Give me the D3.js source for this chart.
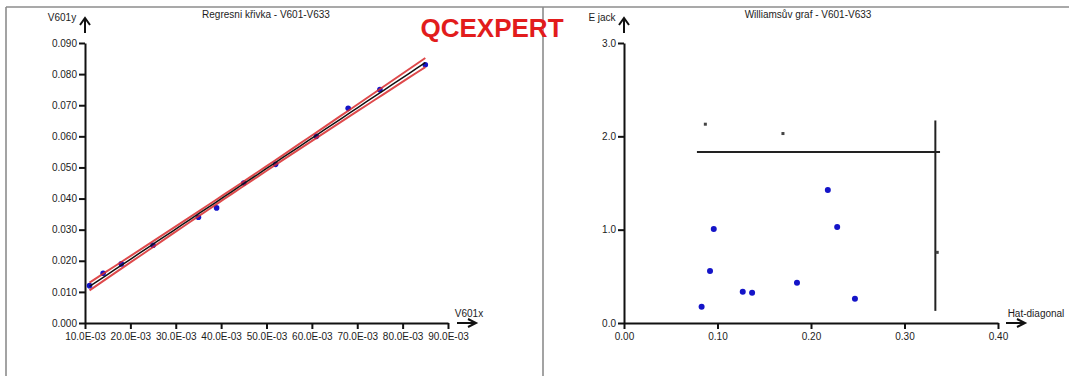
<!DOCTYPE html>
<html>
<head>
<meta charset="utf-8">
<script src="https://cdn.jsdelivr.net/npm/d3@7"></script>
<style>
  html, body { margin: 0; padding: 0; background: #fff; }
  svg { display: block; }
  .tick text { font-family: "Liberation Sans", Arial, sans-serif; fill: #1c1c1c; }
  .axis path, .axis line { stroke: #111; stroke-width: 2; }
</style>
</head>
<body>
<svg id="chart" width="1069" height="376"></svg>
<script>
// Calibration data: V601x vs V601y
const calX = [0.011, 0.014, 0.018, 0.025, 0.035, 0.039, 0.045, 0.052, 0.061, 0.068, 0.075, 0.085];
const calY = [0.012, 0.016, 0.019, 0.025, 0.034, 0.037, 0.045, 0.051, 0.060, 0.069, 0.075, 0.083];
const calXTicks = [0.01, 0.02, 0.03, 0.04, 0.05, 0.06, 0.07, 0.08, 0.09];
const calYTicks = [0.000, 0.010, 0.020, 0.030, 0.040, 0.050, 0.060, 0.070, 0.080, 0.090];
const tCrit = 2.228; // Student t, 0.975, 10 df

// Williams plot: hat diagonal vs jackknife residual
const hatVals   = [0.083, 0.092, 0.096, 0.127, 0.137, 0.185, 0.218, 0.228, 0.247];
const ejackVals = [0.175, 0.557, 1.007, 0.336, 0.325, 0.432, 1.425, 1.029, 0.260];
const hatFlagged   = [0.087, 0.170, 0.335];
const ejackFlagged = [2.130, 2.030, 0.757];
const hatTicks = [0.00, 0.10, 0.20, 0.30, 0.40];
const ejackTicks = [0.0, 1.0, 2.0, 3.0];
const hatLimit = 0.333;     // 2p/n
const ejackLimit = 1.833;   // t(0.95, n-p-1)
const hatLineSpan = [0.078, 0.338];
const ejackLineSpan = [0.13, 2.17];

const svg = d3.select("#chart");
const FONT = '"Liberation Sans", Arial, sans-serif';

// panel frame
const frame = svg.append("g").attr("stroke", "#8c8c8c").attr("stroke-width", 1.6).attr("fill", "none");
frame.append("line").attr("x1", 6).attr("x2", 1069).attr("y1", 7).attr("y2", 7);
frame.append("line").attr("x1", 6).attr("x2", 6).attr("y1", 7).attr("y2", 376);
frame.append("line").attr("x1", 543).attr("x2", 543).attr("y1", 7).attr("y2", 376);

function arrowUp(g, x, yTop) {
  g.append("path")
    .attr("d", `M${x},${yTop + 15}V${yTop} M${x - 5},${yTop + 7}L${x},${yTop}L${x + 5},${yTop + 7}`)
    .attr("fill", "none").attr("stroke", "#111").attr("stroke-width", 2);
}
function arrowRight(g, x0, x1, y) {
  g.append("path")
    .attr("d", `M${x0},${y}H${x1} M${x1 - 8},${y - 4}L${x1},${y}L${x1 - 8},${y + 4}`)
    .attr("fill", "none").attr("stroke", "#111").attr("stroke-width", 2);
}
function text(g, x, y, s, opts = {}) {
  return g.append("text").attr("x", x).attr("y", y).text(s)
    .attr("font-family", FONT)
    .attr("font-size", opts.size || 10)
    .attr("font-weight", opts.weight || "normal")
    .attr("fill", opts.fill || "#1c1c1c")
    .attr("text-anchor", opts.anchor || "start");
}

// ---------- Regression curve ----------
const L = svg.append("g");
const xL = d3.scaleLinear().domain([0.01, 0.09]).range([85, 448]);
const yL = d3.scaleLinear().domain([0, 0.09]).range([323, 43]);

L.append("g").attr("class", "axis").attr("transform", "translate(0,323)")
  .call(d3.axisBottom(xL).tickValues(calXTicks).tickSize(6).tickSizeOuter(0).tickPadding(4)
    .tickFormat(d => (d * 1000).toFixed(1) + "E-03"))
  .call(g => g.selectAll("text").attr("font-size", 10));
L.append("g").attr("class", "axis").attr("transform", "translate(85,0)")
  .call(d3.axisLeft(yL).tickValues(calYTicks).tickSize(6).tickSizeOuter(0).tickPadding(2)
    .tickFormat(d3.format(".3f")))
  .call(g => g.selectAll("text").attr("font-size", 10));
arrowUp(L, 85, 18);
arrowRight(L, 457, 476, 323);
text(L, 62, 21, "V601y", { size: 10, anchor: "middle" });
text(L, 469, 317, "V601x", { size: 10, anchor: "middle" });
text(L, 266, 18, "Regresni křivka - V601-V633", { size: 10, anchor: "middle" });

// least-squares fit with 95% confidence band
const n = calX.length;
const mx = d3.mean(calX), my = d3.mean(calY);
const sxx = d3.sum(calX, x => (x - mx) ** 2);
const sxy = d3.sum(calX, (x, i) => (x - mx) * (calY[i] - my));
const slope = sxy / sxx, icpt = my - slope * mx;
const sse = d3.sum(calX, (x, i) => (calY[i] - (icpt + slope * x)) ** 2);
const sRes = Math.sqrt(sse / (n - 2));
const [xmin, xmax] = d3.extent(calX);
const grid = d3.range(0, 41).map(k => xmin + (xmax - xmin) * k / 40);
const fit = x => icpt + slope * x;
const half = x => tCrit * sRes * Math.sqrt(1 / n + (x - mx) ** 2 / sxx);
const line = d3.line().x(d => xL(d[0])).y(d => yL(d[1]));

L.selectAll("circle").data(calX).join("circle")
  .attr("cx", d => xL(d)).attr("cy", (d, i) => yL(calY[i])).attr("r", 2.8)
  .attr("fill", "#1414c8");
L.append("path").datum(grid.map(x => [x, fit(x) + half(x)])).attr("d", line)
  .attr("fill", "none").attr("stroke", "#d8292b").attr("stroke-width", 2).attr("opacity", 0.85);
L.append("path").datum(grid.map(x => [x, fit(x) - half(x)])).attr("d", line)
  .attr("fill", "none").attr("stroke", "#d8292b").attr("stroke-width", 2).attr("opacity", 0.85);
L.append("path").datum(grid.map(x => [x, fit(x)])).attr("d", line)
  .attr("fill", "none").attr("stroke", "#111").attr("stroke-width", 1.5);

// ---------- Williams plot ----------
const R = svg.append("g");
const xR = d3.scaleLinear().domain([0, 0.4]).range([624, 998]);
const yR = d3.scaleLinear().domain([0, 3]).range([323, 43]);

R.append("g").attr("class", "axis").attr("transform", "translate(0,323)")
  .call(d3.axisBottom(xR).tickValues(hatTicks).tickSize(6).tickSizeOuter(0).tickPadding(4)
    .tickFormat(d3.format(".2f")))
  .call(g => g.selectAll("text").attr("font-size", 10));
R.append("g").attr("class", "axis").attr("transform", "translate(624,0)")
  .call(d3.axisLeft(yR).tickValues(ejackTicks).tickSize(6).tickSizeOuter(0).tickPadding(2)
    .tickFormat(d3.format(".1f")))
  .call(g => g.selectAll("text").attr("font-size", 10));
arrowUp(R, 624, 18);
arrowRight(R, 1006, 1025, 323);
text(R, 602, 21, "E jack", { size: 10, anchor: "middle" });
text(R, 1036, 317, "Hat-diagonal", { size: 10, anchor: "middle" });
text(R, 808, 18, "Williamsův graf - V601-V633", { size: 10, anchor: "middle" });

R.append("line")
  .attr("x1", xR(hatLineSpan[0])).attr("x2", xR(hatLineSpan[1]))
  .attr("y1", yR(ejackLimit)).attr("y2", yR(ejackLimit))
  .attr("stroke", "#222").attr("stroke-width", 2);
R.append("line")
  .attr("x1", xR(hatLimit)).attr("x2", xR(hatLimit))
  .attr("y1", yR(ejackLineSpan[0])).attr("y2", yR(ejackLineSpan[1]))
  .attr("stroke", "#222").attr("stroke-width", 2);

R.selectAll("circle").data(hatVals).join("circle")
  .attr("cx", d => xR(d)).attr("cy", (d, i) => yR(ejackVals[i])).attr("r", 3)
  .attr("fill", "#1414c8");
R.selectAll("rect.flag").data(hatFlagged).join("rect").attr("class", "flag")
  .attr("x", d => xR(d) - 1.5).attr("y", (d, i) => yR(ejackFlagged[i]) - 1.5)
  .attr("width", 3).attr("height", 3).attr("fill", "#444");

// brand mark
text(svg, 492, 37, "QCEXPERT", { size: 26, weight: "bold", fill: "#e21c1c", anchor: "middle" });
</script>
</body>
</html>
